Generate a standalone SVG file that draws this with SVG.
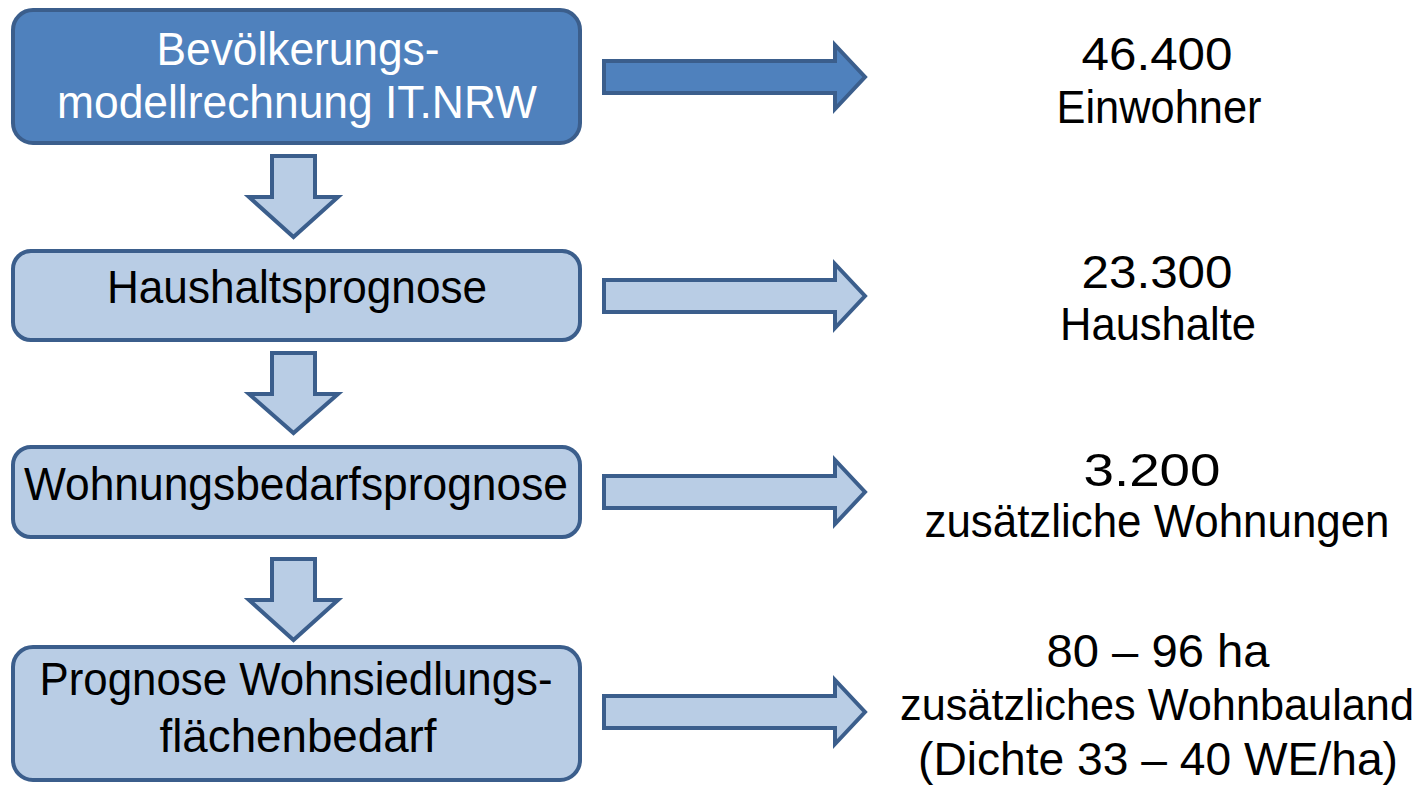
<svg xmlns="http://www.w3.org/2000/svg" width="1425" height="789" viewBox="0 0 1425 789">
<style>
.box{stroke:#3B5E8C;stroke-width:4}
.dark{fill:#4F81BD}
.light{fill:#B9CDE5}
.arr{stroke:#3B5E8C;stroke-width:4;stroke-linejoin:miter}
text{font-family:"Liberation Sans",Arial,sans-serif;font-size:46px;text-anchor:middle}
.w{fill:#FFFFFF}
.k{fill:#000000}
</style>
<rect width="1425" height="789" fill="#FFFFFF"/>
<g id="node1">
<rect class="box dark" x="13" y="10" width="567" height="133" rx="20"/>
<text class="w" x="298" y="65" textLength="283" lengthAdjust="spacingAndGlyphs">Bevölkerungs-</text>
<text class="w" x="297" y="118" textLength="480" lengthAdjust="spacingAndGlyphs">modellrechnung IT.NRW</text>
</g>
<g id="node2">
<rect class="box light" x="13" y="251" width="567" height="89" rx="18"/>
<text class="k" x="297" y="303" textLength="380" lengthAdjust="spacingAndGlyphs">Haushaltsprognose</text>
</g>
<g id="node3">
<rect class="box light" x="13" y="447" width="567" height="90" rx="18"/>
<text class="k" x="296" y="500" textLength="544" lengthAdjust="spacingAndGlyphs">Wohnungsbedarfsprognose</text>
</g>
<g id="node4">
<rect class="box light" x="13" y="647" width="567" height="133" rx="20"/>
<text class="k" x="296" y="695" textLength="513" lengthAdjust="spacingAndGlyphs">Prognose Wohnsiedlungs-</text>
<text class="k" x="298" y="752" textLength="277" lengthAdjust="spacingAndGlyphs">flächenbedarf</text>
</g>
<g id="result1">
<text class="k" x="1157" y="70" textLength="151" lengthAdjust="spacingAndGlyphs">46.400</text>
<text class="k" x="1159" y="123" textLength="205" lengthAdjust="spacingAndGlyphs">Einwohner</text>
</g>
<g id="result2">
<text class="k" x="1157" y="288" textLength="151" lengthAdjust="spacingAndGlyphs">23.300</text>
<text class="k" x="1158" y="340" textLength="196" lengthAdjust="spacingAndGlyphs">Haushalte</text>
</g>
<g id="result3">
<text class="k" x="1152" y="486" textLength="137" lengthAdjust="spacingAndGlyphs">3.200</text>
<text class="k" x="1157" y="537" textLength="465" lengthAdjust="spacingAndGlyphs">zusätzliche Wohnungen</text>
</g>
<g id="result4">
<text class="k" x="1158" y="667" textLength="223" lengthAdjust="spacingAndGlyphs">80 – 96 ha</text>
<text class="k" x="1157" y="720" style="font-size:44px" textLength="514" lengthAdjust="spacingAndGlyphs">zusätzliches Wohnbauland</text>
<text class="k" x="1158" y="775" textLength="480" lengthAdjust="spacingAndGlyphs">(Dichte 33 – 40 WE/ha)</text>
</g>
<g id="connectors">
<polygon class="arr light" points="272,156 315,156 315,197 338,197 293.5,237 249,197 272,197"/>
<polygon class="arr light" points="272,353 315,353 315,394 338,394 293.5,433 249,394 272,394"/>
<polygon class="arr light" points="272,559 315,559 315,600 338,600 293.5,640 249,600 272,600"/>
<polygon class="arr dark" points="604,61 835,61 835,45 865,77 835,109 835,93 604,93"/>
<polygon class="arr light" points="604,280 835,280 835,264 865,296 835,328 835,312 604,312"/>
<polygon class="arr light" points="604,476 835,476 835,460 865,492 835,524 835,508 604,508"/>
<polygon class="arr light" points="604,696 835,696 835,680 865,712 835,744 835,728 604,728"/>
</g>
</svg>
